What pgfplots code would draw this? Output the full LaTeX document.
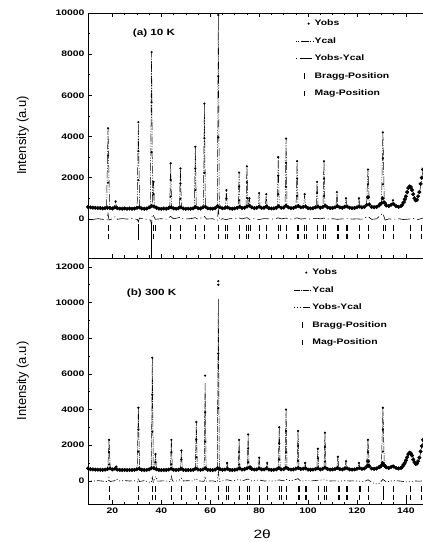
\documentclass[border=0pt]{standalone}
\usepackage{fontspec}
\setmainfont{Liberation Sans}[FakeStretch=1.3]
\newfontfamily\plainsans{Liberation Sans}
\usepackage{pgfplots}
\pgfplotsset{compat=1.18}

\pgfplotsset{
  panel/.style={
    scale only axis, width=335pt,
    xmin=10, xmax=147,
    axis y line*=left, axis x line*=box,
    axis line style={line width=0.8pt},
    tick align=inside,
    xtick={20,40,...,140}, minor x tick num=3,
    minor y tick num=1,
    major tick length=4pt, minor tick length=2.5pt,
    tick style={line width=0.6pt, black},
    scaled y ticks=false,
    /pgf/number format/1000 sep={},
    /pgf/number format/assume math mode=true,
    tick label style={font=\bfseries\fontsize{8}{9}\selectfont},
    ylabel={Intensity (a.u)},
    ylabel style={font=\plainsans\fontsize{13}{15}\selectfont, at={(axis description cs:-0.195,0.5)}, anchor=center},
    legend cell align=left,
    legend style={draw=none, fill=none, font=\bfseries\fontsize{8}{9}\selectfont,
      row sep=6.5pt, nodes={inner sep=1.5pt, text height=6pt, text depth=2pt}, anchor=north west},
  },
  obs/.style={only marks, mark=*, mark size=1.8pt, black,
    legend image code/.code={\fill[black] (0.45cm,0) circle (0.8pt);}},
  pk/.style={only marks, mark=*, mark size=0.9pt, black, forget plot},
  tk/.style={only marks, mark=|, mark size=3pt, black, mark options={line width=0.7pt}},
}

\begin{document}
\begin{tikzpicture}

% ---------------- (b) 300 K ----------------
\begin{axis}[panel, at={(0,0)}, anchor=south west, height=246pt,
  ymin=-1300, ymax=12500, ytick={0,2000,...,12000},
  xtick pos=bottom,
  xlabel={2θ},
  xlabel style={font=\fontsize{12}{14}\selectfont, at={(axis description cs:0.52,0)}, anchor=center, yshift=-30pt},
  legend style={at={(0.603,0.972)}},
]
\addplot[obs] coordinates {
(10,700) (11,650) (12,640) (13,630) (14,625) (15,620) (16,615) (17,630) (18,660) (19,700)
(20,640) (21,680) (22,630) (23,610) (24,605) (25,615) (26,600) (27,610) (28,605) (29,615)
(30,650) (31,680) (32,620) (33,605) (34,610) (35,640) (36,720) (37,700) (38,650) (39,610)
(40,600) (41,610) (42,605) (43,630) (44,680) (45,620) (46,605) (47,620) (48,670) (49,615)
(50,600) (51,610) (52,605) (53,620) (54,690) (55,630) (56,615) (57,640) (58,700) (59,620)
(60,610) (61,605) (62,630) (63,720) (64,650) (65,620) (66,630) (67,680) (68,615) (69,605)
(70,620) (71,640) (72,700) (73,630) (74,650) (75,700) (76,740) (77,660) (78,630) (79,640)
(80,700) (81,640) (82,640) (83,700) (84,630) (85,615) (86,620) (87,640) (88,720) (89,640)
(90,650) (91,740) (92,660) (93,630) (94,640) (95,680) (96,720) (97,660) (98,680) (99,700)
(100,630) (101,620) (102,630) (103,660) (104,700) (105,640) (106,680) (107,740) (108,660) (109,630)
(110,640) (111,660) (112,720) (113,660) (114,640) (115,690) (116,700) (117,640) (118,630) (119,640)
(120,680) (121,720) (122,670) (123,690) (124,800) (125,820) (126,690) (127,670) (128,690) (129,760)
(130,860) (131,900) (132,760) (133,720) (134,780) (135,800) (136,720) (137,690) (138,720) (139,900)
(140,1150) (141,1500) (142,1550) (143,1200) (144,950) (145,1100) (146,1650) (147,2300)
(138.5,780) (139.5,1000) (140.5,1320) (141.5,1580) (142.5,1420) (143.5,1050) (144.5,960) (145.5,1300) (146.5,1950)
(124.5,1100) (130.5,1000) (129.5,800) (131.5,820)
};
\addlegendentry{Yobs}
\addplot[pk] coordinates {
(18.6,2300) (18.6,1610) (18.6,920) (21.6,800)
(30.6,4100) (30.6,2870) (30.6,1640)
(36.3,6900) (36.3,4830) (36.3,2760) (37.6,1500) (37.6,1050)
(44.1,2300) (44.1,1610) (44.1,920) (48.2,1700) (48.2,1190)
(54.3,3300) (54.3,2310) (54.3,1320)
(57.9,5900) (57.9,3850) (57.9,2200)
(63.3,11200) (63.3,11000) (63.3,7140) (63.3,4080)
(66.9,1000) (71.8,2300) (71.8,1610) (71.8,920)
(75.5,2600) (75.5,1820) (75.5,1040) (76.5,800) (80.0,1300) (83.3,1000)
(88.2,3000) (88.2,2100) (88.2,1200) (91.0,4000) (91.0,2800) (91.0,1600)
(95.9,2800) (95.9,1960) (95.9,1120) (98.8,1000) (104.0,1800) (104.0,1260)
(106.9,2700) (106.9,1890) (106.9,1080) (112.2,1350) (115.5,1100) (120.8,1000)
(124.5,2300) (124.5,1610) (124.5,920) (130.6,4100) (130.6,2870) (130.6,1640) (134.7,850)
};
\addplot[black, line width=0.5pt, dash pattern=on 6pt off 1pt on 1pt off 1pt] coordinates {
(10,680) (14,630) (18.1,620) (18.6,2300) (19.1,630) (21.1,615) (21.6,800) (22.1,610)
(30.1,600) (30.6,4100) (31.1,605) (35.9,610) (36.3,6900) (36.7,650) (37.2,620) (37.6,1500) (38.0,610)
(43.7,610) (44.1,2300) (44.5,615) (47.8,610) (48.2,1700) (48.6,615) (53.9,620) (54.3,3300) (54.7,625)
(57.5,625) (57.9,5500) (58.3,630) (62.9,630) (63.3,10200) (63.7,640) (66.5,630) (66.9,1000) (67.3,630)
(71.4,630) (71.8,2300) (72.2,640) (75.1,640) (75.5,2600) (75.9,680) (76.5,800) (76.9,650)
(79.6,650) (80.0,1300) (80.4,650) (82.9,650) (83.3,1000) (83.7,650) (87.8,650) (88.2,3000) (88.6,660)
(90.6,660) (91.0,4000) (91.4,680) (95.5,670) (95.9,2800) (96.3,680) (98.4,670) (98.8,1000) (99.2,670)
(103.6,660) (104.0,1800) (104.4,670) (106.5,680) (106.9,2700) (107.3,690) (111.8,670) (112.2,1350) (112.6,680)
(115.1,680) (115.5,1100) (115.9,680) (120.3,670) (120.8,1000) (121.3,680) (123.9,700) (124.5,2300) (125.1,720)
(130.0,740) (130.6,4100) (131.2,780) (134.1,740) (134.7,850) (135.3,740)
(139.5,800) (140.5,1150) (141.3,1500) (142.0,1600) (142.7,1450) (143.5,1050) (144.5,900) (145.5,1200) (146.3,1750) (147,2300)
};
\addlegendentry{Ycal}
\addplot[black, line width=0.6pt, dash pattern=on 1pt off 2pt on 1pt off 2pt on 1pt off 2pt on 7pt off 2pt] coordinates {
(10,30) (12,-20) (14,10) (16,-15) (18.2,-50) (18.6,180) (19,-40) (21,10) (21.6,100) (23,-10) (25,15) (27,-10) (29,5)
(30.3,-60) (30.6,150) (31,-40) (33,10) (35.9,-100) (36.3,200) (36.7,-80) (37.6,250) (38.5,-20) (41,0)
(43.7,-40) (44.1,250) (44.6,-20) (47,0) (48.2,150) (49,-10) (51,10) (53,-10) (54.3,120) (55,0)
(57.5,-30) (57.9,250) (58.4,-20) (61,0) (62.9,-60) (63.3,550) (63.8,-40) (65,0) (66.9,60) (69,-10)
(71.8,80) (73,0) (75.5,100) (77,-10) (80,50) (82,-10) (84,0) (86,-15) (88.2,50) (90,0) (91,80) (93,-10)
(95.9,120) (97,-20) (99,10) (101,-10) (104,30) (106.9,60) (109,-10) (111,0) (113,-20) (115,10) (117,-10)
(119,0) (121,-20) (123,-40) (124.5,60) (126,-80) (127.5,-170) (129,-150) (130.6,80) (132,-60) (134,-10)
(136,10) (138,-20) (140,-60) (142,-40) (144,-10) (146,-20) (147,10)
};
\addlegendentry{Yobs-Ycal}
\addplot[tk] coordinates {
(18.6,-450) (30.6,-450) (36.3,-450) (37.6,-450) (44.1,-450) (48.2,-450) (54.3,-450) (57.9,-450) (63.3,-450)
(66.6,-450) (67.3,-450) (71.8,-450) (75.2,-450) (76.0,-450) (80.0,-450) (83.3,-450) (88.2,-450) (89.0,-450)
(91.0,-450) (95.9,-450) (96.6,-450) (98.8,-450) (99.5,-450) (104.0,-450) (106.6,-450) (107.3,-450)
(112.2,-450) (112.9,-450) (115.5,-450) (116.2,-450) (120.8,-450) (121.5,-450) (124.5,-450) (130.6,-450)
(134.7,-450) (142.0,-450) (146.5,-450)
};
\addlegendentry{Bragg-Position}
\addplot[tk, mark size=2.5pt] coordinates {
(18.6,-950) (30.6,-950) (36.3,-950) (37.6,-950) (44.1,-950) (48.2,-950) (54.3,-950) (57.9,-950) (63.3,-950)
(66.6,-950) (67.3,-950) (71.8,-950) (75.2,-950) (76.0,-950) (80.0,-950) (83.3,-950) (88.2,-950) (89.0,-950)
(91.0,-950) (95.9,-950) (96.6,-950) (98.8,-950) (99.5,-950) (104.0,-950) (106.6,-950) (107.3,-950)
(112.2,-950) (112.9,-950) (115.5,-950) (116.2,-950) (120.8,-950) (124.5,-950) (130.6,-950)
(134.7,-950) (140.0,-950) (142.0,-950) (146.5,-950)
};
\addlegendentry{Mag-Position}
\addplot[black, line width=0.6pt, forget plot] coordinates {(130.6,-300) (130.6,-1100)};
\node[font=\bfseries\fontsize{9}{10}\selectfont] at (axis cs:36,10540) {(b) 300 K};
\end{axis}

% ---------------- (a) 10 K ----------------
\begin{axis}[panel, at={(0,246pt)}, anchor=south west, height=245pt,
  ymin=-1900, ymax=10000, ytick={0,2000,...,10000},
  xticklabels={},
  legend style={at={(0.61,0.988)}},
]
\addplot[obs] coordinates {
(10,580) (11,560) (12,545) (13,540) (14,525) (15,530) (16,510) (17,520) (18,540) (19,530)
(20,505) (21,560) (22,520) (23,500) (24,495) (25,510) (26,490) (27,505) (28,495) (29,500)
(30,540) (31,560) (32,505) (33,490) (34,500) (35,560) (36,620) (37,600) (38,540) (39,500)
(40,490) (41,505) (42,495) (43,530) (44,560) (45,510) (46,495) (47,520) (48,560) (49,505)
(50,490) (51,500) (52,495) (53,510) (54,580) (55,520) (56,505) (57,560) (58,590) (59,510)
(60,500) (61,495) (62,520) (63,620) (64,560) (65,510) (66,530) (67,560) (68,505) (69,495)
(70,510) (71,540) (72,590) (73,530) (74,540) (75,600) (76,640) (77,560) (78,520) (79,540)
(80,590) (81,530) (82,540) (83,600) (84,520) (85,505) (86,510) (87,540) (88,610) (89,540)
(90,550) (91,640) (92,560) (93,520) (94,530) (95,580) (96,620) (97,560) (98,580) (99,600)
(100,520) (101,510) (102,520) (103,560) (104,600) (105,540) (106,580) (107,640) (108,560) (109,520)
(110,530) (111,560) (112,620) (113,560) (114,540) (115,590) (116,600) (117,540) (118,520) (119,530)
(120,560) (121,600) (122,560) (123,580) (124,680) (125,700) (126,580) (127,560) (128,580) (129,650)
(130,760) (131,800) (132,650) (133,620) (134,690) (135,720) (136,620) (137,580) (138,620) (139,800)
(140,1100) (141,1500) (142,1550) (143,1200) (144,900) (145,1100) (146,1700) (147,2400)
(138.5,680) (139.5,950) (140.5,1300) (141.5,1580) (142.5,1400) (143.5,1000) (144.5,920) (145.5,1300) (146.5,2000)
(124.5,1050) (130.5,1000) (129.5,720) (131.5,760)
};
\addlegendentry{Yobs}
\addplot[pk] coordinates {
(18.2,4400) (18.2,3080) (18.2,1760) (21.3,850)
(30.6,4700) (30.6,3290) (30.6,1880)
(36.0,8100) (36.0,5670) (36.0,3240) (36.8,1800) (36.8,1200)
(43.8,2700) (43.8,1890) (43.8,1080) (47.8,2450) (47.8,1715) (47.8,980)
(53.9,3500) (53.9,2450) (53.9,1400) (57.6,5600) (57.6,3920) (57.6,2240)
(63.3,9900) (63.3,6930) (63.3,3960) (66.6,1400) (66.6,980)
(71.8,2250) (71.8,1575) (71.8,900) (75.0,2550) (75.0,1785) (75.0,1020) (76.0,1000)
(80.0,1250) (82.9,1200) (87.8,3000) (87.8,2100) (87.8,1200)
(91.0,3900) (91.0,2730) (91.0,1560) (95.5,2800) (95.5,1960) (95.5,1120) (98.6,1200)
(103.7,1800) (103.7,1260) (106.5,2800) (106.5,1960) (106.5,1120)
(111.8,1300) (115.5,1000) (120.8,1000)
(124.5,2400) (124.5,1680) (124.5,1000) (130.6,4200) (130.6,2940) (130.6,1680) (134.7,900)
};
\addplot[black, line width=0.5pt, dash pattern=on 1pt off 1.5pt on 1pt off 1.5pt on 8pt off 1.5pt] coordinates {
(10,560) (14,530) (17.6,515) (18.2,4400) (18.8,520) (20.8,510) (21.3,850) (21.8,505)
(30.1,490) (30.6,4700) (31.1,495) (35.5,500) (36.0,8100) (36.4,700) (36.8,1800) (37.2,520)
(43.4,500) (43.8,2700) (44.2,505) (47.4,505) (47.8,2450) (48.2,505) (53.5,510) (53.9,3500) (54.3,520)
(57.2,520) (57.6,5600) (58.0,530) (62.9,530) (63.3,9900) (63.7,540) (66.2,530) (66.6,1400) (67.0,530)
(71.4,530) (71.8,2250) (72.2,540) (74.6,540) (75.0,2550) (75.4,600) (76.0,1000) (76.4,560)
(79.6,550) (80.0,1250) (80.4,550) (82.5,550) (82.9,1200) (83.3,550) (87.4,550) (87.8,3000) (88.2,560)
(90.6,560) (91.0,3900) (91.4,580) (95.1,570) (95.5,2800) (95.9,580) (98.2,570) (98.6,1200) (99.0,570)
(103.3,560) (103.7,1800) (104.1,570) (106.1,580) (106.5,2800) (106.9,590) (111.4,570) (111.8,1300) (112.2,580)
(115.1,580) (115.5,1000) (115.9,580) (120.3,570) (120.8,1000) (121.3,580) (123.9,600) (124.5,2400) (125.1,620)
(130.0,640) (130.6,4200) (131.2,680) (134.1,640) (134.7,900) (135.3,640)
(139.5,700) (140.5,1100) (141.3,1500) (142.0,1600) (142.7,1450) (143.5,1000) (144.5,850) (145.5,1200) (146.3,1800) (147,2400)
};
\addlegendentry{Ycal}
\addplot[black, line width=0.6pt, dash pattern=on 1pt off 3pt on 12pt off 3pt] coordinates {
(10,20) (12,-30) (14,10) (16,-20) (17.8,-40) (18.2,250) (18.6,-60) (20,10) (21.3,120) (22,-20) (24,15)
(26,-10) (28,20) (30.2,-30) (30.6,-150) (31,40) (33,0) (35.6,-60) (36.0,-320) (36.3,220) (36.8,150)
(37.5,-20) (40,10) (42,-15) (43.8,120) (45,0) (47.8,80) (49,-10) (52,10) (53.9,60) (55,-20)
(57.6,120) (58.5,-10) (61,10) (62.9,-80) (63.3,450) (63.8,-60) (65,10) (66.6,-40) (68,15) (70,-10)
(71.8,50) (73,0) (75,60) (76,-20) (78,10) (80,-30) (82,15) (84,0) (86,-10) (87.8,50) (89,0) (91,40)
(92,-20) (94,10) (95.5,50) (97,-10) (99,15) (101,-10) (103.7,30) (105,0) (106.5,40) (108,-10) (110,10)
(112,-20) (114,0) (116,15) (118,-10) (120,0) (122,-15) (124.5,120) (126,-20) (128,0) (130.6,280)
(131.5,-60) (133,0) (135,-20) (137,10) (139,-30) (141,-10) (143,20) (145,-30) (147,40)
};
\addlegendentry{Yobs-Ycal}
\addplot[tk] coordinates {
(18.4,-420) (30.6,-420) (36.0,-420) (36.8,-420) (37.6,-420) (43.8,-420) (47.8,-420) (53.9,-420) (57.6,-420)
(63.3,-420) (66.3,-420) (67.0,-420) (71.8,-420) (74.8,-420) (75.5,-420) (76.2,-420) (79.9,-420) (82.9,-420)
(87.8,-420) (88.6,-420) (91.0,-420) (95.5,-420) (96.2,-420) (98.5,-420) (99.2,-420) (103.7,-420)
(106.3,-420) (107.0,-420) (111.8,-420) (112.5,-420) (115.5,-420) (116.2,-420) (120.8,-420) (124.5,-420)
(130.6,-420) (131.5,-420) (134.7,-420) (142.0,-420) (146.5,-420)
};
\addlegendentry{Bragg-Position}
\addplot[tk, mark size=2.5pt] coordinates {
(18.4,-860) (30.6,-860) (36.0,-860) (36.8,-860) (43.8,-860) (47.8,-860) (53.9,-860) (57.6,-860)
(63.3,-860) (66.3,-860) (67.0,-860) (71.8,-860) (74.8,-860) (75.5,-860) (79.9,-860) (82.9,-860)
(87.8,-860) (91.0,-860) (95.5,-860) (96.2,-860) (98.5,-860) (99.2,-860) (103.7,-860) (106.3,-860)
(107.0,-860) (111.8,-860) (112.5,-860) (115.5,-860) (116.2,-860) (120.8,-860) (124.5,-860)
(130.6,-860) (134.7,-860) (142.0,-860) (146.5,-860)
};
\addlegendentry{Mag-Position}
\addplot[black, line width=0.6pt, forget plot] coordinates {(36.0,-300) (36.0,-1900)};
\addplot[black, line width=0.6pt, forget plot] coordinates {(30.6,-250) (30.6,-1050)};
\node[font=\bfseries\fontsize{9}{10}\selectfont] at (axis cs:37,9000) {(a) 10 K};
\end{axis}

\pgfresetboundingbox
\path[use as bounding box] (-88pt,-38pt) rectangle (335pt,504pt);
\end{tikzpicture}
\end{document}
